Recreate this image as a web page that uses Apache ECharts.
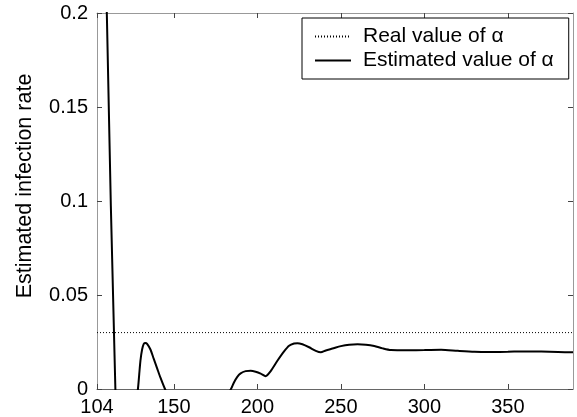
<!DOCTYPE html>
<html><head><meta charset="utf-8">
<script src="https://cdn.jsdelivr.net/npm/echarts@6/dist/echarts.min.js"></script>
<style>html,body{margin:0;padding:0;background:#fff}#c{width:577px;height:417px}</style>
</head><body><div id="c"></div>
<script>
var xTicks = [104, 150, 200, 250, 300, 350];
var realAlpha = [[104, 0.03], [389, 0.03]];
var estX = [104, 110, 115, 118, 122, 126, 128.5, 129.3, 130, 131, 132, 133, 134, 136, 138, 140, 142, 144.7, 150, 165, 178, 184.2, 186, 188, 190, 193, 196, 199, 202, 205, 208, 212, 216, 219, 222, 224, 227, 231, 235, 238, 241, 245, 250, 255, 260, 265, 270, 275, 280, 290, 300, 310, 320, 330, 340, 350, 360, 370, 380, 389];
var estY = [0.43, 0.195, 0, -0.02, -0.03, -0.015, 0, 0.008, 0.015, 0.021, 0.024, 0.0245, 0.024, 0.021, 0.016, 0.011, 0.006, 0, -0.01, -0.015, -0.008, 0, 0.0035, 0.0065, 0.0083, 0.0095, 0.0097, 0.0092, 0.0082, 0.0068, 0.0095, 0.015, 0.020, 0.023, 0.0242, 0.0244, 0.0238, 0.0222, 0.0203, 0.0195, 0.0205, 0.0215, 0.0228, 0.0236, 0.0238, 0.0236, 0.0229, 0.0216, 0.0207, 0.0206, 0.0207, 0.0209, 0.0203, 0.0198, 0.0197, 0.0198, 0.0200, 0.0199, 0.0197, 0.0195];
var estData = estX.map(function (x, i) { return [x, estY[i]]; });

var font = 'Liberation Sans, Arial, sans-serif';
var chart = echarts.init(document.getElementById('c'), null, {renderer: 'canvas'});
var tickStyle = {show: true, inside: true, length: 5, lineStyle: {color: '#444', width: 1}};
chart.setOption({
  animation: false,
  backgroundColor: '#fff',
  grid: {left: 97, right: 4, top: 13, bottom: 28, containLabel: false},
  xAxis: [{
    type: 'value', min: 104, max: 389, position: 'bottom',
    axisLine: {show: true, onZero: false, lineStyle: {color: '#666', width: 1}},
    axisTick: Object.assign({customValues: xTicks}, tickStyle),
    axisLabel: {customValues: xTicks, color: '#000', fontSize: 20, fontFamily: font, margin: 8, showMinLabel: true},
    splitLine: {show: false}
  }, {
    type: 'value', min: 104, max: 389, position: 'top',
    axisLine: {show: true, onZero: false, lineStyle: {color: '#999', width: 1}},
    axisTick: Object.assign({customValues: xTicks}, tickStyle),
    axisLabel: {show: false},
    splitLine: {show: false}
  }],
  yAxis: [{
    type: 'value', min: 0, max: 0.2, interval: 0.05, position: 'left',
    axisLine: {show: true, onZero: false, lineStyle: {color: '#999', width: 1}},
    axisTick: tickStyle,
    axisLabel: {color: '#000', fontSize: 20, fontFamily: font, margin: 9},
    splitLine: {show: false}
  }, {
    type: 'value', min: 0, max: 0.2, interval: 0.05, position: 'right',
    axisLine: {show: true, onZero: false, lineStyle: {color: '#999', width: 1}},
    axisTick: tickStyle,
    axisLabel: {show: false},
    splitLine: {show: false}
  }],
  legend: {
    left: 302, top: 18, orient: 'vertical',
    padding: [8, 15, 8, 12], itemGap: 3, itemWidth: 36, itemHeight: 14,
    borderColor: '#000', borderWidth: 1, backgroundColor: '#fff',
    itemStyle: {color: 'transparent', borderWidth: 0, opacity: 0},
    textStyle: {color: '#000', fontSize: 21, fontFamily: font, padding: [0, 0, 0, 7]},
    data: ['Real value of α', 'Estimated value of α']
  },
  series: [{
    name: 'Real value of α', type: 'line', data: realAlpha, symbol: 'none', showSymbol: false,
    lineStyle: {color: '#000', width: 1, type: [1, 2]}, clip: true
  }, {
    name: 'Estimated value of α', type: 'line', data: estData, symbol: 'none', showSymbol: false, smooth: 0.25,
    lineStyle: {color: '#000', width: 2}, clip: true
  }],
  graphic: [{
    type: 'text', x: 25, y: 186, rotation: Math.PI / 2,
    style: {text: 'Estimated infection rate', fill: '#000', fontSize: 21.5, fontFamily: font, align: 'center', verticalAlign: 'middle'}
  }]
});
</script></body></html>
